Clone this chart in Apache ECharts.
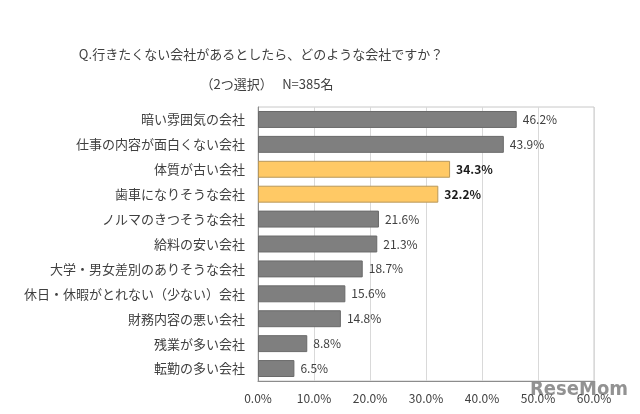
<!DOCTYPE html>
<html><head><meta charset="utf-8">
<script src="https://cdn.jsdelivr.net/npm/echarts@6/dist/echarts.min.js"></script>
<style>html,body{margin:0;padding:0;background:#fff;}#c{width:640px;height:414px;}</style>
</head><body><div id="c"></div>
<script>
const categories = ["暗い雰囲気の会社","仕事の内容が面白くない会社","体質が古い会社","歯車になりそうな会社","ノルマのきつそうな会社","給料の安い会社","大学・男女差別のありそうな会社","休日・休暇がとれない（少ない）会社","財務内容の悪い会社","残業が多い会社","転勤の多い会社"];
const values = [46.2,43.9,34.3,32.2,21.6,21.3,18.7,15.6,14.8,8.8,6.5];
const highlighted = [false,false,true,true,false,false,false,false,false,false,false];
const xTicks = [0,10,20,30,40,50,60];

const FONT = '"Noto Sans CJK JP", "Noto Sans", sans-serif';
const chart = echarts.init(document.getElementById('c'), null, {renderer:'canvas'});
const data = values.map((v,i)=>({
  value: v,
  itemStyle: highlighted[i] ? {color:'#ffc965', borderColor:'#b8985a', borderWidth:1} : {color:'#7f7f7f', borderColor:'#6a6a6a', borderWidth:1},
  label: highlighted[i] ? {fontWeight:'bold', color:'#1a1a1a'} : {}
}));
chart.setOption({
  animation:false,
  textStyle:{fontFamily:FONT},
  title:[
    {text:'Q.行きたくない会社があるとしたら、どのような会社ですか？', left:256, top:43, textAlign:'center',
     textStyle:{fontSize:13, fontWeight:'normal', color:'#404040', fontFamily:FONT}},
    {text:'（2つ選択）　 N=385名', left:262, top:73, textAlign:'center',
     textStyle:{fontSize:13, fontWeight:'normal', color:'#404040', fontFamily:FONT}}
  ],
  grid:{left:258, right:46, top:107, bottom:33, show:true, borderColor:'#c8c8c8', borderWidth:1},
  xAxis:{type:'value', min:xTicks[0], max:xTicks[xTicks.length-1], interval:10,
    axisLine:{show:true, lineStyle:{color:'#8c8c8c'}},
    axisTick:{show:false},
    splitLine:{show:true, lineStyle:{color:'#d9d9d9'}},
    axisLabel:{formatter:v=>v.toFixed(1)+'%', color:'#404040', fontSize:12, margin:11, fontFamily:FONT}
  },
  yAxis:{type:'category', data:categories, inverse:true,
    axisLine:{show:true, lineStyle:{color:'#8c8c8c'}},
    axisTick:{show:false},
    axisLabel:{color:'#404040', fontSize:13, margin:13, fontFamily:FONT}
  },
  series:[{type:'bar', data:data, barCategoryGap:'32%',
    label:{show:true, position:'right', distance:6, formatter:p=>p.value.toFixed(1)+'%', color:'#404040', fontSize:12, fontFamily:FONT}
  }],
  graphic:[{type:'text', left:530, top:380, style:{text:'ReseMom', font:'bold 20px "DejaVu Sans Condensed", "DejaVu Sans", sans-serif', fill:'rgba(100,100,100,0.7)'}}]
});
</script></body></html>
